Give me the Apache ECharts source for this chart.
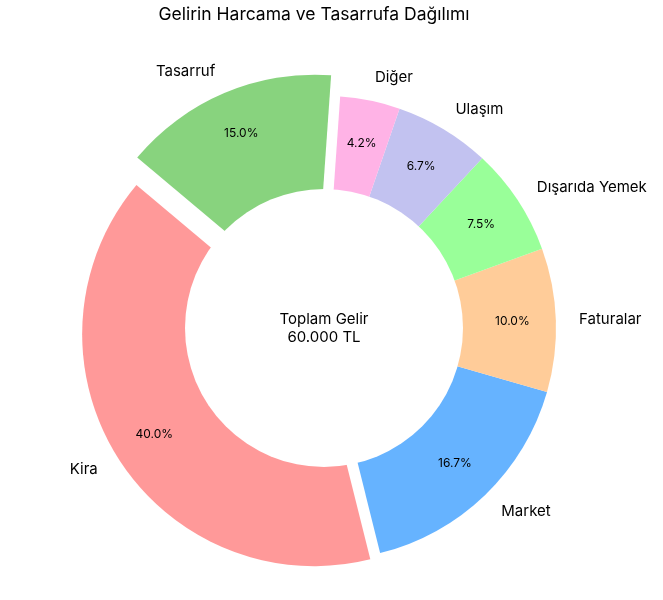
<!DOCTYPE html>
<html><head><meta charset="utf-8">
<script src="https://cdn.jsdelivr.net/npm/echarts@6/dist/echarts.min.js"></script>
<style>html,body{margin:0;padding:0;background:#fff}#c{width:663px;height:600px}</style>
</head><body><div id="c"></div>
<script>
const categories = ['Kira', 'Market', 'Faturalar', 'Dışarıda Yemek', 'Ulaşım', 'Diğer', 'Tasarruf'];
const amounts = [24000, 10000, 6000, 4500, 4000, 2500, 9000];
const colors = ['#ff9999', '#66b3ff', '#ffcc99', '#99ff99', '#c2c2f0', '#ffb3e6', '#88d37e'];
const explodeSmall = ['Kira'];
const explodeLarge = ['Tasarruf'];
const titleText = 'Gelirin Harcama ve Tasarrufa Dağılımı';
const centerText = 'Toplam Gelir\n60.000 TL';

const FONT = 'Inter';
const total = amounts.reduce((a, b) => a + b, 0);
const R = 232, r0 = 139;
const CENTER = [324, 328];

function makeSeries(visibleSet, selectedSet, offset, kind) {
  return {
    type: 'pie',
    center: CENTER,
    radius: kind === 'pct' ? [r0, R] : [0, R],
    startAngle: 140,
    clockwise: false,
    selectedMode: 'multiple',
    selectedOffset: offset,
    avoidLabelOverlap: false,
    animation: false,
    silent: true,
    z: kind === 'pct' ? 4 : 2,
    itemStyle: { borderWidth: 0 },
    select: { itemStyle: { borderWidth: 0 } },
    emphasis: { disabled: true },
    labelLine: { show: false, length: R * 0.1, length2: 0 },
    label: kind === 'pct' ? {
      position: 'inside',
      fontFamily: FONT, fontSize: 12, color: '#000',
      formatter: p => (p.value / total * 100).toFixed(1) + '%'
    } : {
      position: 'outside',
      distanceToLabelLine: 0,
      bleedMargin: 0,
      overflow: 'none',
      fontFamily: FONT, fontSize: 15, color: '#000',
      formatter: '{b}'
    },
    data: categories.map((c, i) => {
      const vis = visibleSet(c);
      return {
        name: c,
        value: amounts[i],
        selected: selectedSet.includes(c),
        itemStyle: { color: (kind === 'pct' || !vis) ? 'rgba(0,0,0,0)' : colors[i] },
        label: { show: vis }
      };
    })
  };
}

const notLarge = c => !explodeLarge.includes(c);
const isLarge = c => explodeLarge.includes(c);

const holeSeries = {
  type: 'pie',
  center: CENTER,
  radius: [0, r0],
  animation: false,
  silent: true,
  z: 3,
  itemStyle: { color: '#ffffff', borderWidth: 0 },
  emphasis: { disabled: true },
  labelLine: { show: false },
  label: {
    show: true, position: 'center',
    fontFamily: FONT, fontSize: 15, color: '#000', lineHeight: 18,
    formatter: centerText
  },
  data: [{ name: 'Toplam Gelir', value: total }]
};

const chart = echarts.init(document.getElementById('c'), null, { renderer: 'canvas' });
chart.setOption({
  backgroundColor: '#fff',
  title: [
    { text: titleText, left: 314, top: 6, textAlign: 'center', padding: 0,
      textStyle: { fontFamily: FONT, fontSize: 17.5, fontWeight: 'normal', color: '#000' } }
  ],
  series: [
    makeSeries(notLarge, explodeSmall, R * 0.05, 'name'),
    makeSeries(isLarge, explodeLarge, R * 0.1, 'name'),
    holeSeries,
    makeSeries(notLarge, explodeSmall, R * 0.05, 'pct'),
    makeSeries(isLarge, explodeLarge, R * 0.1, 'pct')
  ]
});
</script></body></html>
